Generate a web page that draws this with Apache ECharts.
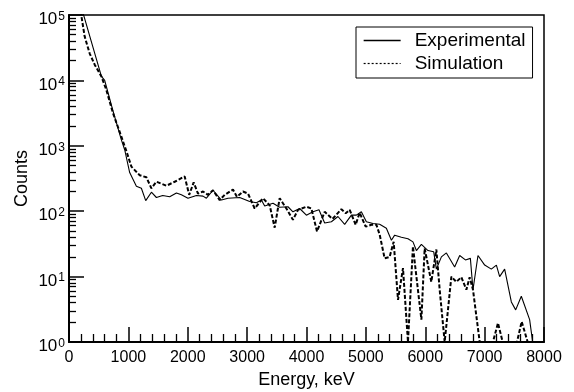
<!DOCTYPE html>
<html>
<head>
<meta charset="utf-8">
<script src="https://cdn.jsdelivr.net/npm/echarts@6/dist/echarts.min.js"></script>
<style>
  html, body { margin: 0; padding: 0; background: #fff; }
  #chart { width: 574px; height: 392px; }
</style>
</head>
<body>
<div id="chart"></div>
<script>
// values (keV, counts)
const expEnergy = [150, 546, 601, 736, 882, 938, 1022, 1135, 1219, 1292, 1388, 1472, 1578, 1696, 1809, 1893, 2004, 2146, 2257, 2314, 2425, 2567, 2678, 2875, 3043, 3156, 3240, 3296, 3436, 3547, 3688, 3772, 3885, 3998, 4109, 4210, 4306, 4419, 4530, 4643, 4756, 4840, 4924, 5008, 5120, 5232, 5345, 5430, 5485, 5598, 5709, 5793, 5851, 5935, 6046, 6142, 6187, 6272, 6356, 6495, 6580, 6676, 6760, 6804, 6888, 7001, 7113, 7198, 7253, 7337, 7450, 7523, 7618, 7758, 7809];
const expCounts = [200000, 11500, 10000, 3550, 1230, 870, 390, 240, 224, 145, 195, 162, 174, 166, 190, 178, 158, 174, 170, 158, 209, 148, 158, 162, 141, 135, 148, 120, 132, 115, 117, 98, 110, 87, 98, 105, 66, 69, 83, 63, 87, 87, 98, 69, 65, 63, 55, 36, 43, 40, 38, 34, 25, 31, 25, 24, 13, 20, 23, 14, 21, 18, 19, 6.3, 21, 15, 13, 15, 10, 13, 4.1, 3.1, 5, 2.2, 1];

const simEnergy = [100, 264, 349, 433, 546, 630, 741, 882, 972, 1051, 1191, 1303, 1388, 1472, 1640, 1780, 1948, 2024, 2100, 2172, 2257, 2341, 2425, 2538, 2622, 2762, 2829, 2930, 3015, 3127, 3267, 3380, 3464, 3548, 3661, 3772, 3857, 3998, 4082, 4177, 4306, 4436, 4587, 4660, 4727, 4828, 4895, 4997, 5093, 5177, 5232, 5316, 5400, 5468, 5541, 5625, 5709, 5793, 5838, 5935, 5990, 6102, 6187, 6243, 6327, 6440, 6524, 6608, 6693, 6748, 6804, 6917, 7140, 7225, 7304, 7545, 7624, 7725];
const simCounts = [400000, 46800, 25700, 17400, 11500, 7100, 3160, 1380, 800, 480, 355, 330, 224, 282, 245, 282, 340, 178, 275, 186, 200, 178, 209, 148, 178, 214, 166, 200, 186, 110, 158, 123, 56, 158, 110, 74, 105, 117, 110, 49, 98, 76, 107, 93, 105, 62, 95, 58, 62, 62, 44, 19, 20, 34, 4.4, 13.5, 1, 29, 12.6, 2.2, 27, 8.3, 26, 6.3, 1, 10, 8.3, 9.8, 6.3, 9.8, 6.3, 1, 1, 1.95, 1, 1, 2.05, 1];

const seriesNames = ['Experimental', 'Simulation'];

const FONT = '"Liberation Sans", Arial, Helvetica, sans-serif';
const pairs = (xs, ys) => xs.map((x, i) => [x, ys[i]]);

// 2..9 x 10^n tick positions, in log10 units, for the overlay axis
const minorLogTicks = [];
for (let d = 0; d < 5; d++) {
  for (let k = 2; k <= 9; k++) minorLogTicks.push(d + Math.log10(k));
}

const chart = echarts.init(document.getElementById('chart'), null, { renderer: 'canvas' });

chart.setOption({
  backgroundColor: '#fff',
  animation: false,
  textStyle: { fontFamily: FONT, color: '#000' },
  grid: {
    left: 69, right: 30, top: 15, bottom: 50,
    show: true, borderColor: '#000', borderWidth: 1.5,
    outerBoundsMode: 'none'
  },
  legend: {
    orient: 'vertical',
    left: 356, top: 27,
    padding: [4, 7, 5, 7],
    borderColor: '#000', borderWidth: 1,
    backgroundColor: '#fff',
    itemWidth: 37, itemHeight: 10, itemGap: 4,
    itemStyle: { opacity: 0 },
    textStyle: { fontSize: 19, color: '#000', fontFamily: FONT, padding: [0, 0, 0, 9] },
    data: [
      { name: seriesNames[0], lineStyle: { width: 1.3, type: 'solid' } },
      { name: seriesNames[1], lineStyle: { width: 1.2, type: [2, 2] } }
    ]
  },
  xAxis: {
    type: 'value',
    min: 0, max: 8000, interval: 1000,
    name: 'Energy, keV',
    nameLocation: 'middle', nameGap: 28,
    nameTextStyle: { fontSize: 18, color: '#000', fontFamily: FONT },
    axisLine: { lineStyle: { color: '#000', width: 2 } },
    axisTick: { inside: true, length: 15, lineStyle: { color: '#000', width: 1.5 } },
    minorTick: { show: true, splitNumber: 5, length: 8, lineStyle: { color: '#000', width: 1.3 } },
    axisLabel: { fontSize: 16, color: '#000', margin: 8, fontFamily: FONT, formatter: (v) => String(v) },
    splitLine: { show: false },
    minorSplitLine: { show: false }
  },
  yAxis: [
    {
      type: 'log', logBase: 10,
      min: 1, max: 100000,
      name: 'Counts',
      nameLocation: 'middle', nameGap: 38,
      nameMoveOverlap: false,
      nameTextStyle: { fontSize: 18, color: '#000', fontFamily: FONT },
      axisLine: { show: true, lineStyle: { color: '#000', width: 2 } },
      axisTick: { inside: true, length: 15, lineStyle: { color: '#000', width: 1.5 } },
      axisLabel: {
        margin: 4,
        formatter: (v) => '{b|10}{s|' + Math.round(Math.log10(v)) + '}',
        rich: {
          b: { fontSize: 17, lineHeight: 17, color: '#000', fontFamily: FONT, padding: [9, 0, 0, 0] },
          s: { fontSize: 12, lineHeight: 12, color: '#000', fontFamily: FONT, verticalAlign: 'top', padding: [4, 0, 0, 1] }
        }
      },
      splitLine: { show: false }
    },
    {
      type: 'value',
      min: 0, max: 5,
      position: 'left',
      axisLine: { show: false },
      axisLabel: { show: false },
      axisTick: { show: true, inside: true, length: 7, customValues: minorLogTicks, lineStyle: { color: '#000', width: 1.3 } },
      splitLine: { show: false }
    }
  ],
  series: [
    {
      name: seriesNames[0],
      type: 'line',
      yAxisIndex: 0,
      data: pairs(expEnergy, expCounts),
      symbol: 'none',
      clip: true,
      lineStyle: { color: '#000', width: 1.1, type: 'solid' },
      itemStyle: { color: '#000' }
    },
    {
      name: seriesNames[1],
      type: 'line',
      yAxisIndex: 0,
      data: pairs(simEnergy, simCounts),
      symbol: 'none',
      clip: true,
      lineStyle: { color: '#000', width: 2, type: [4, 2] },
      itemStyle: { color: '#000' }
    }
  ]
});
</script>
</body>
</html>
